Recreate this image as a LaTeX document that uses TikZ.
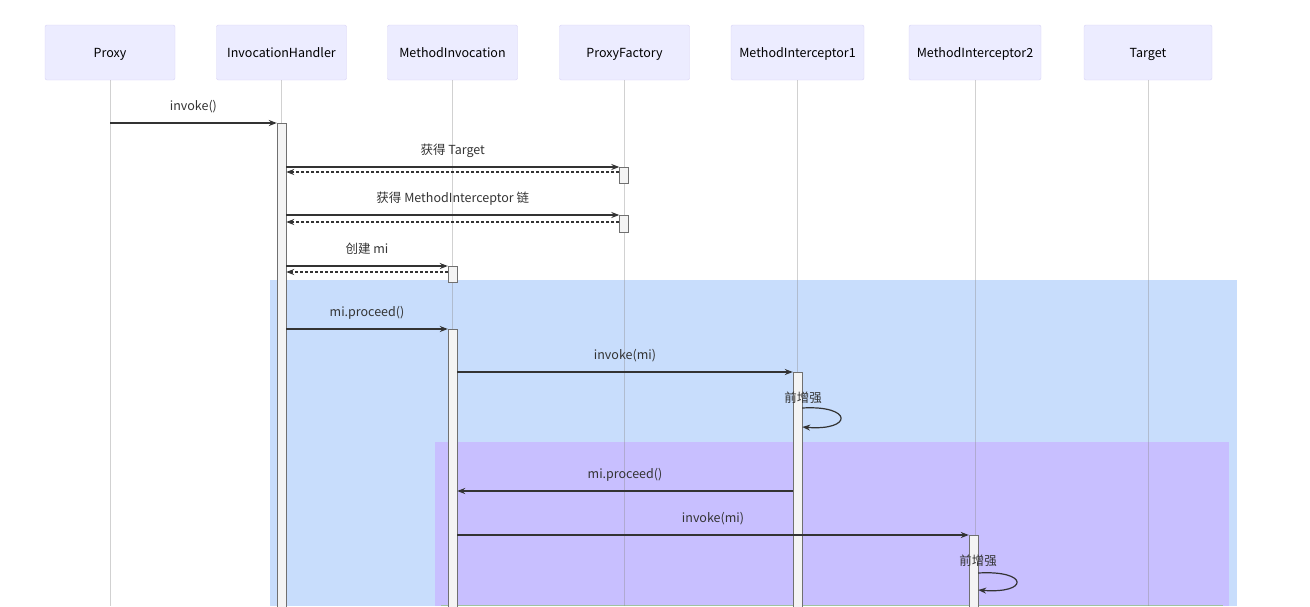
\documentclass[tikz,border=0pt]{standalone}
\usepackage{fontspec}
\setmainfont{Noto Sans CJK SC}
\usetikzlibrary{arrows.meta}
\definecolor{actorfill}{HTML}{ECECFF}
\definecolor{actordraw}{HTML}{D8D2F6}
\definecolor{barfill}{HTML}{F4F4F4}
\definecolor{barline}{HTML}{707070}
\definecolor{msgcol}{HTML}{333333}
\definecolor{outerbg}{RGB}{200,221,252}
\definecolor{innerbg}{RGB}{200,191,255}
\definecolor{deepbg}{RGB}{160,196,160}

\begin{document}
\begin{tikzpicture}[x=1pt, y=-1pt, font=\fontsize{12.5}{14}\selectfont, >={Stealth[length=8pt,width=6pt]},
  actor/.style={draw=actordraw, fill=actorfill, rounded corners=2pt, minimum width=130pt, minimum height=55pt, inner sep=0pt, text height=12pt, text depth=2pt},
  life/.style={draw=black!45, opacity=.4, line width=1pt},
  actbar/.style={draw=barline, fill=barfill, minimum width=9pt, inner sep=0pt, anchor=north},
  msg/.style={->, draw=msgcol, line width=1.2pt},
  reply/.style={msg, dash pattern=on 3pt off 2pt},
  lbl/.style={text=msgcol, midway, anchor=base, yshift=12.5pt, inner sep=0pt}]
\useasboundingbox (0,0) rectangle (1310,606);
\coordinate (bottom) at (0,606);
% rect blocks behind the lifelines
\fill[outerbg] (270,280) rectangle (1237,606);
\fill[innerbg] (435,442) rectangle (1229,606);
\fill[deepbg] (441,604.5) rectangle (1223,606);
% participants
\node[actor] (proxy) at (110,52.5) {Proxy};
\node[actor] (handler) at (281.5,52.5) {InvocationHandler};
\node[actor] (invocation) at (452.5,52.5) {MethodInvocation};
\node[actor] (factory) at (624.5,52.5) {ProxyFactory};
\node[actor, minimum width=133pt] (icpt1) at (797.5,52.5) {MethodInterceptor1};
\node[actor, minimum width=132pt] (icpt2) at (975,52.5) {MethodInterceptor2};
\node[actor, minimum width=128pt] (target) at (1148,52.5) {Target};
\foreach \p in {proxy,handler,invocation,factory,icpt1,icpt2,target}
  \draw[life] (\p.south) -- (\p.south |- bottom);
% activations
\node[actbar, minimum height=490pt] (hbar) at (281.5,123) {};
\node[actbar, minimum height=16pt] (fbar1) at (624,167) {};
\node[actbar, minimum height=17pt] (fbar2) at (624,215) {};
\node[actbar, minimum height=16pt] (ibar1) at (452.5,266) {};
\node[actbar, minimum height=284pt] (ibar2) at (452.5,329) {};
\node[actbar, minimum height=241pt] (c1bar) at (797.5,372) {};
\node[actbar, minimum height=78pt] (c2bar) at (973.5,535) {};
% messages
\draw[msg] (proxy.south |- hbar.north) -- node[lbl] {invoke()} (hbar.north west);
\draw[msg] (hbar.east |- fbar1.north) -- node[lbl] {获得 Target} (fbar1.north west);
\draw[reply] ([yshift=-5pt]fbar1.north west) -- ([yshift=-5pt]hbar.east |- fbar1.north);
\draw[msg] (hbar.east |- fbar2.north) -- node[lbl] {获得 MethodInterceptor 链} (fbar2.north west);
\draw[reply] ([yshift=-7pt]fbar2.north west) -- ([yshift=-7pt]hbar.east |- fbar2.north);
\draw[msg] (hbar.east |- ibar1.north) -- node[lbl] {创建 mi} (ibar1.north west);
\draw[reply] ([yshift=-6pt]ibar1.north west) -- ([yshift=-6pt]hbar.east |- ibar1.north);
\draw[msg] (hbar.east |- ibar2.north) -- node[lbl] {mi.proceed()} (ibar2.north west);
\draw[msg] (ibar2.east |- c1bar.north) -- node[lbl] {invoke(mi)} (c1bar.north west);
% self call: before advice
\draw[msg] ([yshift=-36pt]c1bar.north east) .. controls +(51,-3) and +(51,4) .. ([yshift=-55pt]c1bar.north east);
\node[text=msgcol, anchor=base] (pre1) at (803,402) {前增强};
\draw[msg] (c1bar.west |- 0,491) -- node[lbl] {mi.proceed()} (ibar2.east |- 0,491);
\draw[msg] (ibar2.east |- c2bar.north) -- node[lbl] {invoke(mi)} (c2bar.north west);
\draw[msg] ([yshift=-38pt]c2bar.north east) .. controls +(51,-3) and +(51,4) .. ([yshift=-55pt]c2bar.north east);
\node[text=msgcol, anchor=base] (pre2) at (978,565) {前增强};
\end{tikzpicture}
\end{document}
